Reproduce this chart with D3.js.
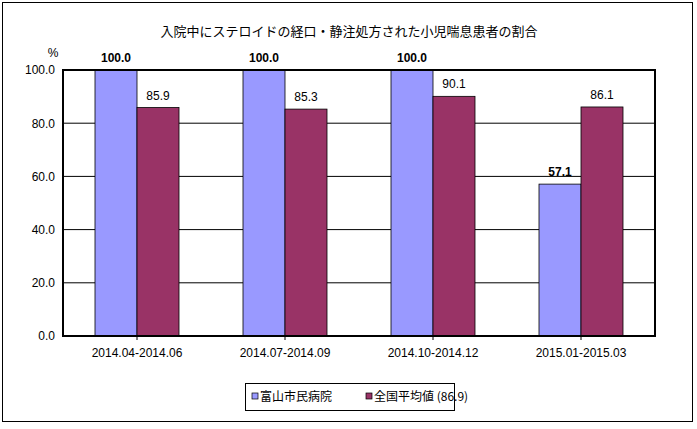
<!DOCTYPE html>
<html><head><meta charset="utf-8">
<script src="https://cdn.jsdelivr.net/npm/d3@7"></script>
<style>body{margin:0;background:#fff}svg{font-family:"Liberation Sans","Noto Sans CJK JP",sans-serif}</style>
</head><body><svg id="c" width="697" height="429"></svg>
<script>
const categories=["2014.04-2014.06","2014.07-2014.09","2014.10-2014.12","2015.01-2015.03"];
const hospital=[100.0,100.0,100.0,57.1];
const national=[85.9,85.3,90.1,86.1];
const seriesNames=["富山市民病院","全国平均値 (86.9)"];
const yTicks=[0,20,40,60,80,100];
const colors=["#9999ff","#993366"];
const svg=d3.select("#c");
svg.append("rect").attr("x",2.5).attr("y",2.5).attr("width",690).attr("height",419).attr("fill","#fff").attr("stroke","#000");
const L=63,R=655,T=70,B=336;
const x=d3.scaleBand().domain(categories).range([L,R]);
const y=d3.scaleLinear().domain([0,100]).range([B,T]);
svg.append("text").attr("x",349).attr("y",36).attr("text-anchor","middle").attr("font-size",13).text("入院中にステロイドの経口・静注処方された小児喘息患者の割合");
svg.append("text").attr("x",53).attr("y",57).attr("text-anchor","middle").attr("font-size",12).text("%");
yTicks.filter(t=>t>0&&t<100).forEach(t=>svg.append("line").attr("x1",L).attr("x2",R).attr("y1",y(t)).attr("y2",y(t)).attr("stroke","#000"));
const ya=svg.append("g").attr("transform",`translate(${L},0)`).call(d3.axisLeft(y).tickValues(yTicks).tickFormat(d3.format(".1f")).tickSize(0).tickPadding(8));
ya.select(".domain").remove();ya.selectAll("text").attr("font-size",12).attr("font-family","Liberation Sans");
const bw=42;
[hospital,national].forEach((s,i)=>{
  svg.selectAll(null).data(s).enter().append("rect")
   .attr("x",(d,j)=>x(categories[j])+32+i*bw).attr("width",bw)
   .attr("y",d=>y(d)).attr("height",d=>B-y(d)).attr("fill",colors[i]).attr("stroke","#000").attr("stroke-width",0.8);
  svg.selectAll(null).data(s).enter().append("text")
   .attr("x",(d,j)=>x(categories[j])+32+i*bw+bw/2).attr("y",d=>y(d)-8)
   .attr("text-anchor","middle").attr("font-size",12).attr("font-weight",i==0?"bold":"normal").text(d=>d.toFixed(1));
});
svg.append("rect").attr("x",L).attr("y",T).attr("width",R-L).attr("height",B-T).attr("fill","none").attr("stroke","#000").attr("stroke-width",2);
const xa=svg.append("g").attr("transform",`translate(0,${B})`).call(d3.axisBottom(x).tickSize(4).tickPadding(8));
xa.select(".domain").remove();xa.selectAll("text").attr("font-size",12).attr("font-family","Liberation Sans");
svg.append("rect").attr("x",245.5).attr("y",383.5).attr("width",209).attr("height",27).attr("fill","#fff").attr("stroke","#000");
let lx=[252,366];
seriesNames.forEach((n,i)=>{
  svg.append("rect").attr("x",lx[i]).attr("y",393).attr("width",6).attr("height",6).attr("fill",colors[i]).attr("stroke","#000").attr("stroke-width",0.7);
  svg.append("text").attr("x",lx[i]+8).attr("y",401).attr("font-size",12).attr("font-family","Noto Sans CJK JP").text(n);
});
</script></body></html>
